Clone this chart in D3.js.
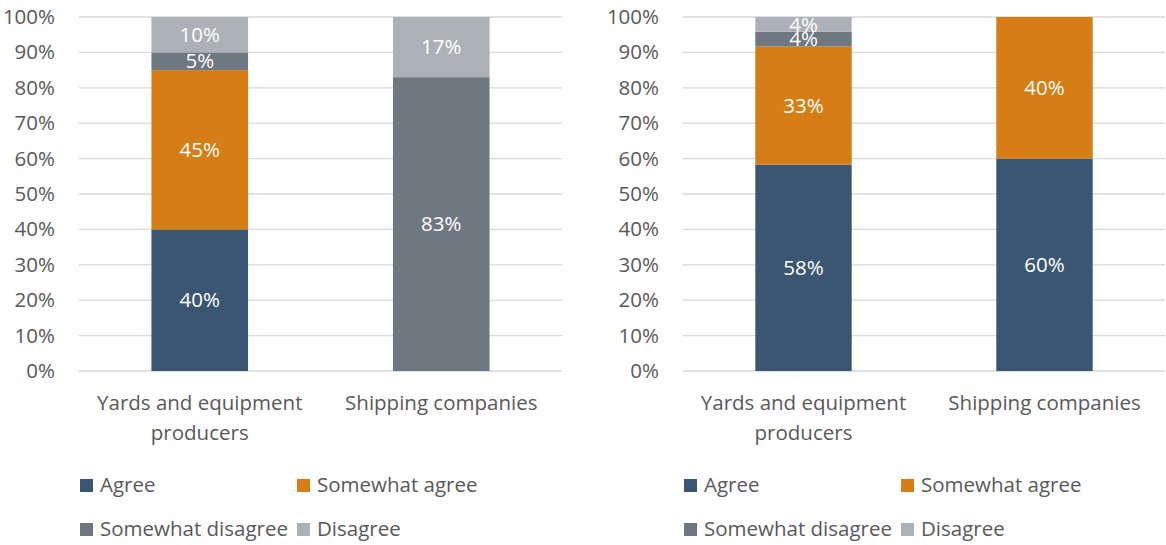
<!DOCTYPE html>
<html>
<head>
<meta charset="utf-8">
<script src="https://cdn.jsdelivr.net/npm/d3@7"></script>
<style>
  body { margin: 0; background: #fff; }
  text { font-family: "Open Sans", sans-serif; fill: #595959; }
</style>
</head>
<body>
<div id="chart"></div>
<script>
// Chart data
var categories = ["Yards and equipment producers", "Shipping companies"];
var seriesNames = ["Agree", "Somewhat agree", "Somewhat disagree", "Disagree"];
var seriesColors = ["#3b5673", "#d67d16", "#6f7780", "#abb1b7"];
var yTicks = [0, 10, 20, 30, 40, 50, 60, 70, 80, 90, 100];

// left panel, values per category in series order
var leftYards = [40, 45, 5, 10];
var leftShipping = [0, 0, 83, 17];

// right panel
var rightYards = [58.33, 33.33, 4.17, 4.17];
var rightShipping = [60, 40, 0, 0];

// svg area
var svg__Width = 1166;
var svg__Height = 545;
var font__Size = "20.5px";

var svg = d3.select("#chart")
  .append("svg")
  .attr("width", svg__Width)
  .attr("height", svg__Height);

var chart__Top = 17;
var chart__Bottom = 371;

function drawPanel(left, right, rows) {
  var g = svg.append("g");

  var xBand__Scale = d3.scaleBand()
    .domain(categories)
    .range([left, right])
    .padding(0);

  var yLinear__Scale = d3.scaleLinear()
    .domain([0, 100])
    .range([chart__Bottom, chart__Top]);

  // gridlines
  g.selectAll(".grid")
    .data(yTicks)
    .enter()
    .append("line")
    .attr("x1", left)
    .attr("x2", right)
    .attr("y1", d => yLinear__Scale(d))
    .attr("y2", d => yLinear__Scale(d))
    .attr("stroke", "#d9d9d9")
    .attr("stroke-width", 1.3);

  // y axis labels
  var leftAxis = d3.axisLeft(yLinear__Scale)
    .tickValues(yTicks)
    .tickFormat(d => d + "%")
    .tickSize(0)
    .tickPadding(0);

  var axisG = g.append("g")
    .attr("transform", `translate(${left - 24}, 0)`)
    .call(leftAxis);
  axisG.select(".domain").remove();
  axisG.selectAll("text")
    .attr("font-family", null)
    .style("font-size", font__Size)
    .style("fill", "#595959");

  // stacks
  var table = categories.map((c, i) => {
    var o = { cat: c };
    seriesNames.forEach((s, j) => { o[s] = rows[i][j]; });
    return o;
  });
  var stacked = d3.stack().keys(seriesNames)(table);

  var barW = xBand__Scale.bandwidth() * 0.4;

  stacked.forEach((layer, j) => {
    layer.forEach(seg => {
      var v = seg[1] - seg[0];
      if (v <= 0) return;
      var x = xBand__Scale(seg.data.cat) + (xBand__Scale.bandwidth() - barW) / 2;
      g.append("rect")
        .attr("x", x)
        .attr("y", yLinear__Scale(seg[1]))
        .attr("width", barW)
        .attr("height", yLinear__Scale(seg[0]) - yLinear__Scale(seg[1]))
        .attr("fill", seriesColors[j]);
      g.append("text")
        .attr("x", x + barW / 2)
        .attr("y", (yLinear__Scale(seg[0]) + yLinear__Scale(seg[1])) / 2)
        .attr("dy", "0.35em")
        .attr("text-anchor", "middle")
        .style("font-size", font__Size)
        .style("fill", "#ffffff")
        .text(Math.round(v) + "%");
    });
  });

  // category labels (wrapped like the original)
  var catLines = {
    "Yards and equipment producers": ["Yards and equipment", "producers"],
    "Shipping companies": ["Shipping companies"]
  };
  categories.forEach(c => {
    catLines[c].forEach((line, k) => {
      g.append("text")
        .attr("x", xBand__Scale(c) + xBand__Scale.bandwidth() / 2)
        .attr("y", 410 + k * 30)
        .attr("text-anchor", "middle")
        .style("font-size", font__Size)
        .text(line);
    });
  });

  // legend
  var legendPos = [
    [left + 1, 485], [left + 218, 485],
    [left + 1, 529], [left + 218, 529]
  ];
  seriesNames.forEach((s, j) => {
    g.append("rect")
      .attr("x", legendPos[j][0])
      .attr("y", legendPos[j][1] - 6)
      .attr("width", 13)
      .attr("height", 13)
      .attr("fill", seriesColors[j]);
    g.append("text")
      .attr("x", legendPos[j][0] + 20)
      .attr("y", legendPos[j][1])
      .attr("dy", "0.35em")
      .style("font-size", font__Size)
      .text(s);
  });
}

drawPanel(79, 562, [leftYards, leftShipping]);
drawPanel(683, 1165, [rightYards, rightShipping]);
</script>
</body>
</html>
